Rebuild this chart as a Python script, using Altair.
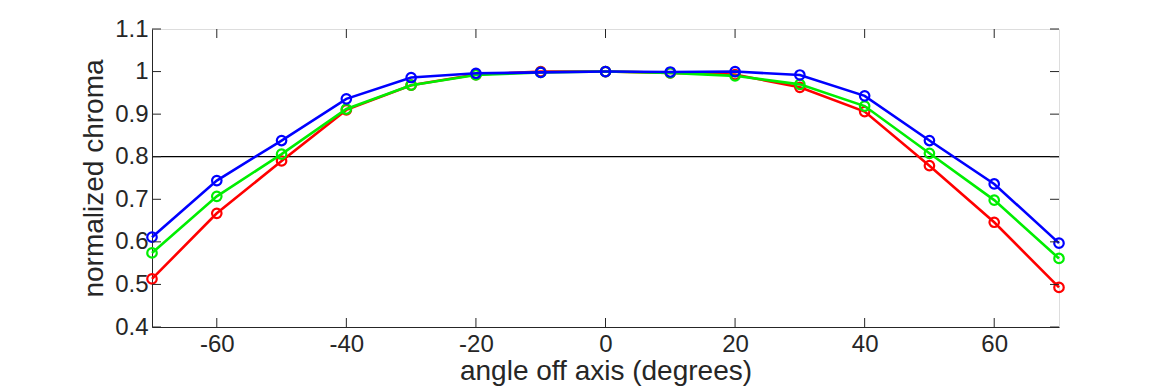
import altair as alt
import pandas as pd

angles = [-70, -60, -50, -40, -30, -20, -10, 0, 10, 20, 30, 40, 50, 60, 70]
red = [0.513, 0.667, 0.790, 0.910, 0.968, 0.993, 1.000, 1.000, 0.997, 0.993, 0.963, 0.906, 0.779, 0.646, 0.493]
green = [0.574, 0.707, 0.806, 0.912, 0.968, 0.992, 0.998, 1.000, 0.997, 0.990, 0.970, 0.919, 0.808, 0.698, 0.561]
blue = [0.611, 0.744, 0.838, 0.936, 0.986, 0.996, 0.998, 1.000, 0.999, 1.000, 0.992, 0.943, 0.838, 0.736, 0.597]
series_names = ["red", "green", "blue"]
series_colors = ["#ff0000", "#00ee00", "#0000ff"]
x_ticks = [-60, -40, -20, 0, 20, 40, 60]
y_ticks = [0.4, 0.5, 0.6, 0.7, 0.8, 0.9, 1.0, 1.1]
threshold = 0.8

W, H = 907, 298
FONT = "Liberation Sans"
TXT = "#262626"

rows = []
for name, vals in zip(series_names, [red, green, blue]):
    for a, v in zip(angles, vals):
        rows.append({"angle": a, "chroma": v, "series": name})
df = pd.DataFrame(rows)

xscale = alt.Scale(domain=[-70, 70], nice=False, zero=False)
yscale = alt.Scale(domain=[0.4, 1.1], nice=False, zero=False)

xaxis = alt.Axis(values=x_ticks, title="angle off axis (degrees)", tickSize=0,
                 labelExpr="toString(datum.value)",
                 labelFontSize=24, titleFontSize=28, labelFont=FONT, titleFont=FONT,
                 labelColor=TXT, titleColor=TXT, labelPadding=5, titlePadding=1,
                 domainColor=TXT, grid=False, titleFontWeight="normal")
yaxis = alt.Axis(values=y_ticks, title="normalized chroma", tickSize=0,
                 labelExpr="toString(datum.value)",
                 labelFontSize=24, titleFontSize=28, labelFont=FONT, titleFont=FONT,
                 labelColor=TXT, titleColor=TXT, labelPadding=4, titlePadding=6,
                 domainColor=TXT, grid=False, titleFontWeight="normal")

thr = alt.Chart(pd.DataFrame({"y": [threshold]})).mark_rule(color="black", strokeWidth=1.2).encode(
    y=alt.Y("y:Q", scale=yscale, axis=yaxis)
)

layers = [thr]
for name, col in zip(series_names, series_colors):
    sub = alt.Chart(df[df.series == name]).encode(
        x=alt.X("angle:Q", scale=xscale, axis=xaxis),
        y=alt.Y("chroma:Q", scale=yscale, axis=yaxis),
    )
    layers.append(sub.mark_line(color=col, strokeWidth=2.6))
    layers.append(sub.mark_point(color=col, filled=False, size=90, strokeWidth=2.2, opacity=1))

xt = pd.DataFrame({"t": x_ticks})
yt = pd.DataFrame({"t": y_ticks})
tick_color = TXT
layers.append(alt.Chart(xt).mark_rule(color=tick_color, strokeWidth=1).encode(
    x=alt.X("t:Q", scale=xscale, axis=xaxis), y=alt.value(H), y2=alt.value(H - 9)))
layers.append(alt.Chart(xt).mark_rule(color=tick_color, strokeWidth=1).encode(
    x=alt.X("t:Q", scale=xscale, axis=xaxis), y=alt.value(0), y2=alt.value(9)))
layers.append(alt.Chart(yt).mark_rule(color=tick_color, strokeWidth=1).encode(
    y=alt.Y("t:Q", scale=yscale, axis=yaxis), x=alt.value(0), x2=alt.value(9)))
layers.append(alt.Chart(yt).mark_rule(color=tick_color, strokeWidth=1).encode(
    y=alt.Y("t:Q", scale=yscale, axis=yaxis), x=alt.value(W), x2=alt.value(W - 9)))

chart = alt.layer(*layers).properties(
    width=W, height=H,
    autosize=alt.AutoSizeParams(type="none"),
    padding={"left": 144, "top": 21, "right": 100, "bottom": 60},
).configure_view(stroke=TXT, strokeWidth=1.2).configure(background="white")

chart.save("out.html", embed_options={"renderer": "svg", "actions": False})
